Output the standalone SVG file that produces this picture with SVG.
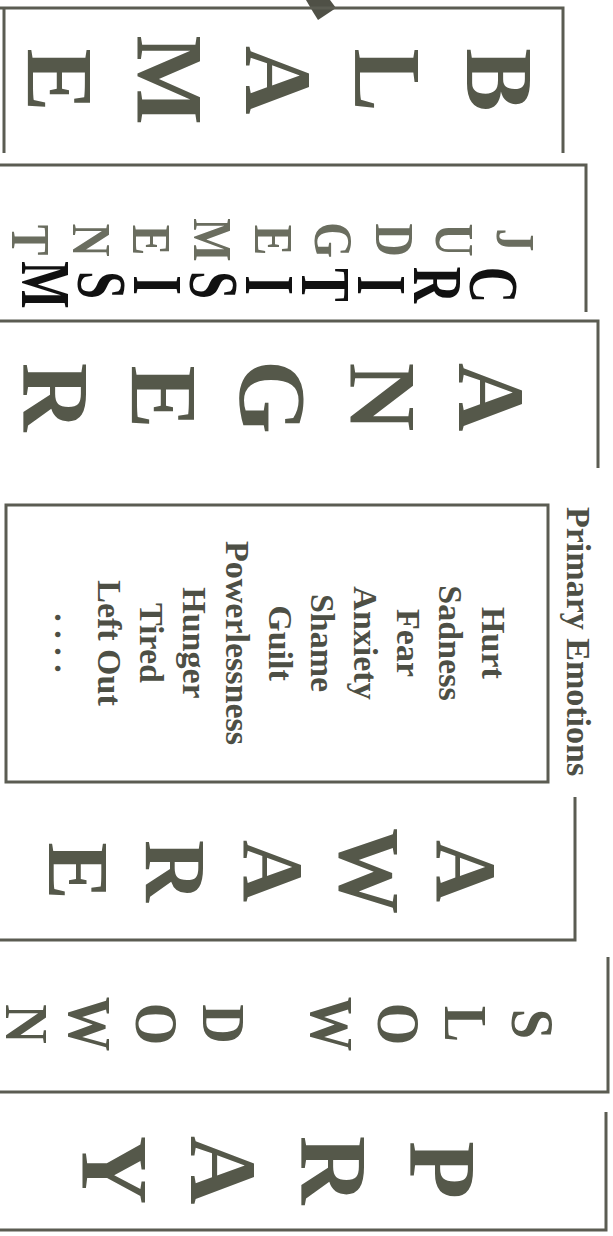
<svg xmlns="http://www.w3.org/2000/svg" width="613" height="1236" viewBox="0 0 613 1236">
<style>
.ln{fill:none;stroke:#5b5c52;stroke-width:3}
.big{font-family:"Liberation Serif","Times New Roman",serif;font-weight:bold;fill:#55584a;text-anchor:middle}
.b95{font-size:95px}
.b86{font-size:86px}
.b62{font-size:62px}
.jud{font-family:"Liberation Serif","Times New Roman",serif;font-weight:bold;font-size:54px;fill:#6a6d5f;text-anchor:middle}
.cri{font-family:"Liberation Serif","Times New Roman",serif;font-weight:bold;font-size:70px;fill:#111;text-anchor:middle}
.lst{font-family:"Liberation Serif","Times New Roman",serif;font-weight:bold;font-size:34px;fill:#4d4f45;text-anchor:middle}
.lbl{font-family:"Liberation Serif","Times New Roman",serif;font-weight:bold;font-size:34px;fill:#4d4f45}
</style>
<rect width="613" height="1236" fill="#fff"/>
<g id="connectors">
  <polygon points="306,0 330,0 336,8 318,20 313,12" fill="#4f5046"/>
</g>
<g transform="translate(613,0) rotate(90)">
  <g id="blame">
    <path class="ln" d="M8,613 V50 H153 M8,609 H153"/>
    <g class="big b95">
      <text x="80" y="146">B</text>
      <text x="80" y="258">L</text>
      <text x="80" y="367">A</text>
      <text x="80" y="476">M</text>
      <text x="80" y="586">E</text>
    </g>
  </g>
  <g id="criticism-judgment">
    <path class="ln" d="M165,613 V27 H312"/>
    <g class="jud">
      <text transform="translate(240,116) scale(0.85,1)">J</text>
      <text transform="translate(240,176.6) scale(0.85,1)">U</text>
      <text transform="translate(240,237.2) scale(0.85,1)">D</text>
      <text transform="translate(240,297.8) scale(0.85,1)">G</text>
      <text transform="translate(240,358.4) scale(0.85,1)">E</text>
      <text transform="translate(240,419) scale(0.85,1)">M</text>
      <text transform="translate(240,479.6) scale(0.85,1)">E</text>
      <text transform="translate(240,540.2) scale(0.85,1)">N</text>
      <text transform="translate(240,600.8) scale(0.85,1)">T</text>
    </g>
    <g class="cri">
      <text transform="translate(285,143) scale(0.72,1)">C</text>
      <text transform="translate(285,199) scale(0.72,1)">R</text>
      <text transform="translate(285,255) scale(0.72,1)">I</text>
      <text transform="translate(285,311) scale(0.72,1)">T</text>
      <text transform="translate(285,367) scale(0.72,1)">I</text>
      <text transform="translate(285,423) scale(0.72,1)">S</text>
      <text transform="translate(285,479) scale(0.72,1)">I</text>
      <text transform="translate(285,535) scale(0.72,1)">S</text>
      <text transform="translate(285,591) scale(0.72,1)">M</text>
    </g>
  </g>
  <g id="anger">
    <path class="ln" d="M321,613 V15 H468"/>
    <g class="big b95">
      <text x="397" y="154">A</text>
      <text x="397" y="263">N</text>
      <text x="397" y="373">G</text>
      <text x="397" y="482">E</text>
      <text x="397" y="590">R</text>
    </g>
  </g>
  <g id="primary-emotions">
    <text class="lbl" x="507" y="46">Primary Emotions</text>
    <rect class="ln" x="505" y="65" width="277" height="542"/>
    <g class="lst">
      <text x="643" y="131">Hurt</text>
      <text x="643" y="173.7">Sadness</text>
      <text x="643" y="216.4">Fear</text>
      <text x="643" y="259.1">Anxiety</text>
      <text x="643" y="301.8">Shame</text>
      <text x="643" y="344.5">Guilt</text>
      <text x="643" y="387.2">Powerlessness</text>
      <text x="643" y="429.9">Hunger</text>
      <text x="643" y="472.6">Tired</text>
      <text x="643" y="515.3">Left Out</text>
      <text x="643" y="558">. . . .</text>
    </g>
  </g>
  <g id="aware">
    <path class="ln" d="M797,38 H940 V613"/>
    <g class="big b86">
      <text x="871" y="176">A</text>
      <text x="871" y="273">W</text>
      <text x="871" y="369">A</text>
      <text x="871" y="467">R</text>
      <text x="871" y="564">E</text>
    </g>
  </g>
  <g id="slow-down">
    <path class="ln" d="M957,5 H1092 V613"/>
    <g class="big b62">
      <text transform="translate(1024,101) scale(0.88,1)">S</text>
      <text transform="translate(1024,168) scale(0.88,1)">L</text>
      <text transform="translate(1024,235) scale(0.88,1)">O</text>
      <text transform="translate(1024,302) scale(0.88,1)">W</text>
      <text transform="translate(1024,410) scale(0.88,1)">D</text>
      <text transform="translate(1024,477) scale(0.88,1)">O</text>
      <text transform="translate(1024,544) scale(0.88,1)">W</text>
      <text transform="translate(1024,607) scale(0.88,1)">N</text>
    </g>
  </g>
  <g id="pray">
    <path class="ln" d="M1112,7 H1230 V613"/>
    <g class="big b95">
      <text x="1170" y="203">P</text>
      <text x="1170" y="312">R</text>
      <text x="1170" y="422">A</text>
      <text x="1170" y="531">Y</text>
    </g>
  </g>
</g>
</svg>
